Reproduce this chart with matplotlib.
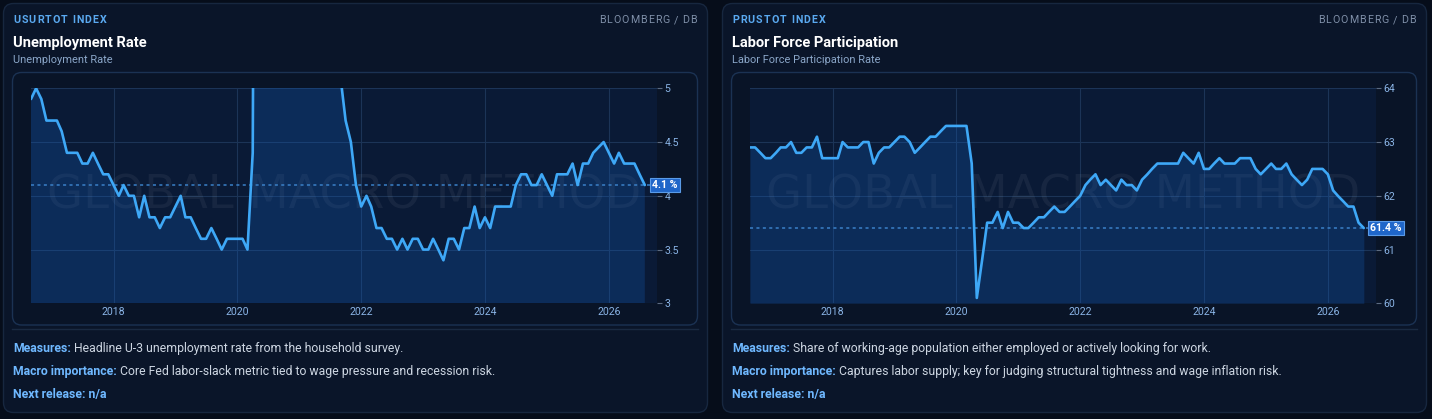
import matplotlib
matplotlib.use("Agg")
import matplotlib.pyplot as plt
from matplotlib.patches import FancyBboxPatch
from matplotlib.font_manager import FontProperties
import pandas as pd

# ---------------- data ----------------
try:
    months = pd.date_range("2016-08-31", "2026-07-31", freq="ME")
except Exception:
    months = pd.date_range("2016-08-31", "2026-07-31", freq="M")

unemployment = [
    4.9, 5.0, 4.9, 4.7, 4.7,
    4.7, 4.6, 4.4, 4.4, 4.4, 4.3, 4.3, 4.4, 4.3, 4.2, 4.2, 4.1,
    4.0, 4.1, 4.0, 4.0, 3.8, 4.0, 3.8, 3.8, 3.7, 3.8, 3.8, 3.9,
    4.0, 3.8, 3.8, 3.7, 3.6, 3.6, 3.7, 3.6, 3.5, 3.6, 3.6, 3.6,
    3.6, 3.5, 4.4, 14.8, 13.3, 11.1, 10.2, 8.4, 7.9, 6.9, 6.7, 6.7,
    6.4, 6.2, 6.1, 6.1, 5.8, 5.9, 5.4, 5.1, 4.7, 4.5, 4.1, 3.9,
    4.0, 3.9, 3.7, 3.7, 3.6, 3.6, 3.5, 3.6, 3.5, 3.6, 3.6, 3.5,
    3.5, 3.6, 3.5, 3.4, 3.6, 3.6, 3.5, 3.7, 3.7, 3.9, 3.7, 3.8,
    3.7, 3.9, 3.9, 3.9, 3.9, 4.1, 4.2, 4.2, 4.1, 4.1, 4.2, 4.1,
    4.0, 4.2, 4.2, 4.2, 4.3, 4.1, 4.3, 4.3, 4.4, None, 4.5, 4.4,
    4.3, 4.4, 4.3, 4.3, 4.3, 4.2, 4.1,
]

participation = [
    62.9, 62.9, 62.8, 62.7, 62.7,
    62.8, 62.9, 62.9, 63.0, 62.8, 62.8, 62.9, 62.9, 63.1, 62.7, 62.7, 62.7,
    62.7, 63.0, 62.9, 62.9, 62.9, 63.0, 63.0, 62.6, 62.8, 62.9, 62.9, 63.0,
    63.1, 63.1, 63.0, 62.8, 62.9, 63.0, 63.1, 63.1, 63.2, 63.3, 63.3, 63.3,
    63.3, 63.3, 62.6, 60.1, 60.8, 61.5, 61.5, 61.7, 61.4, 61.7, 61.5, 61.5,
    61.4, 61.4, 61.5, 61.6, 61.6, 61.7, 61.8, 61.7, 61.7, 61.8, 61.9, 62.0,
    62.2, 62.3, 62.4, 62.2, 62.3, 62.2, 62.1, 62.3, 62.2, 62.2, 62.1, 62.3,
    62.4, 62.5, 62.6, 62.6, 62.6, 62.6, 62.6, 62.8, 62.7, 62.6, 62.8, 62.5,
    62.5, 62.6, 62.7, 62.6, 62.6, 62.6, 62.7, 62.7, 62.7, 62.5, 62.4, 62.5,
    62.6, 62.5, 62.5, 62.6, 62.4, 62.3, 62.2, 62.3, 62.5, None, 62.5, 62.4,
    62.1, 62.0, 61.9, 61.8, 61.8, 61.5, 61.4,
]

xtick_years = [2018, 2020, 2022, 2024, 2026]
xtick_labels = ["2018", "2020", "2022", "2024", "2026"]

unemp_yticks = [3, 3.5, 4, 4.5, 5]
unemp_ytick_labels = ["3", "3.5", "4", "4.5", "5"]
lfpr_yticks = [60, 61, 62, 63, 64]
lfpr_ytick_labels = ["60", "61", "62", "63", "64"]

codes = ["USURTOT INDEX", "PRUSTOT INDEX"]
sources = ["BLOOMBERG / DB", "BLOOMBERG / DB"]
titles = ["Unemployment Rate", "Labor Force Participation"]
subtitles = ["Unemployment Rate", "Labor Force Participation Rate"]
measures = [
    "Headline U-3 unemployment rate from the household survey.",
    "Share of working-age population either employed or actively looking for work.",
]
importance = [
    "Core Fed labor-slack metric tied to wage pressure and recession risk.",
    "Captures labor supply; key for judging structural tightness and wage inflation risk.",
]
next_release = ["n/a", "n/a"]
watermark = "GLOBAL MACRO METHOD"

# ---------------- style ----------------
W, H, DPI = 1432, 419, 100
FONT = ["Roboto", "DejaVu Sans"]
plt.rcParams["font.family"] = FONT

OUTER = "#060d1a"
CARD = "#0a1529"
CARD_EDGE = "#17273f"
BOX_FACE = "#091427"
BOX_EDGE = "#1b3253"
PLOT_BG = "#0a1a36"
FILL = "#1462c4"
GRID = "#1c3457"
LINE = "#3ea8f7"
TICKC = "#8ab4e6"
CODE_C = "#5aa9f0"
SRC_C = "#7f8fa8"
SUB_C = "#8aa6c8"
LABEL_C = "#6fb8ff"
BODY_C = "#cdd6e2"
DIV_C = "#1a2a42"
LAST_LINE = "#3a80c8"
LAST_BOX = "#1f66c9"
LAST_EDGE = "#5a9be8"

fig = plt.figure(figsize=(W / DPI, H / DPI), dpi=DPI, facecolor=OUTER)
bg = fig.add_axes([0, 0, 1, 1])
bg.set_xlim(0, W)
bg.set_ylim(H, 0)
bg.axis("off")
bg.set_zorder(0)
renderer = fig.canvas.get_renderer()


def text_w(s, fp):
    a = renderer.get_text_width_height_descent("x" + s + "x", fp, ismath=False)[0]
    b = renderer.get_text_width_height_descent("xx", fp, ismath=False)[0]
    return a - b


def spaced(x, y, s, fp, color, spacing, ha="left"):
    widths = [text_w(c, fp) for c in s]
    gaps = [spacing * 0.6 if c == " " else spacing for c in s]
    total = sum(widths) + sum(gaps[:-1])
    cx = x if ha == "left" else x - total
    for c, w, g in zip(s, widths, gaps):
        if c != " ":
            bg.text(cx, y, c, fontproperties=fp, color=color, va="center", ha="left")
        cx += w + g


series_list = [unemployment, participation]
ylims = [(3, 5), (60, 64)]
yticks_list = [unemp_yticks, lfpr_yticks]
yticklabels_list = [unemp_ytick_labels, lfpr_ytick_labels]

xmin = pd.Timestamp("2016-08-31")
xmax = pd.Timestamp("2026-10-08")

for i in range(2):
    off = i * 719
    # card
    bg.add_patch(FancyBboxPatch((3.5 + off, 3.5), 704, 409,
                                boxstyle="round,pad=0,rounding_size=10",
                                fc=CARD, ec=CARD_EDGE, lw=1))
    # chart box
    bg.add_patch(FancyBboxPatch((12.5 + off, 72.5), 685, 252.5,
                                boxstyle="round,pad=0,rounding_size=9",
                                fc=BOX_FACE, ec=BOX_EDGE, lw=1))
    # divider
    bg.plot([12 + off, 698 + off], [328.5, 328.5], color=DIV_C, lw=1)

    # header
    fp_code = FontProperties(family=FONT, weight="bold", size=7.7)
    spaced(13 + off, 20, codes[i], fp_code, CODE_C, 1.1)
    fp_src = FontProperties(family=FONT, size=7.7)
    spaced(697 + off, 20, sources[i], fp_src, SRC_C, 1.0, ha="right")
    bg.text(13 + off, 42.5, titles[i], fontsize=10.5, fontweight="bold",
            color="white", va="center", ha="left")
    bg.text(13 + off, 60, subtitles[i], fontsize=7.9, color=SUB_C,
            va="center", ha="left")

    # footer
    rows = [("Measures:", measures[i]), ("Macro importance:", importance[i]),
            ("Next release:", None)]
    for j, (lab, body) in enumerate(rows):
        y = 348 + j * 23
        if body is None:
            bg.text(13 + off, y, lab + " " + next_release[i], fontsize=8.8,
                    fontweight="bold", color=LABEL_C, va="center", ha="left")
            continue
        t = bg.text(13 + off, y, lab, fontsize=8.8, fontweight="bold",
                    color=LABEL_C, va="center", ha="left")
        wl = t.get_window_extent(renderer).width
        bg.text(13 + off + wl + 3.5, y, body, fontsize=8.8, color=BODY_C,
                va="center", ha="left")

    # plot axes
    left_px = 31 + off
    ax = fig.add_axes([left_px / W, 1 - 303.3 / H, 625.5 / W, 215 / H])
    ax.set_zorder(2)
    ax.set_facecolor(PLOT_BG)
    s = pd.Series(series_list[i], index=months, dtype=float).dropna()
    lo, hi = ylims[i]
    ax.fill_between(s.index, s.values, lo, color=FILL, alpha=0.25, lw=0, zorder=2)
    ax.plot(s.index, s.values, color=LINE, lw=1.9, zorder=4,
            solid_joinstyle="round", solid_capstyle="round")
    last = s.values[-1]
    ax.axhline(last, color=LAST_LINE, lw=1.1, ls=(0, (2, 2.2)), zorder=3)
    ax.text(0.9936 if i == 0 else 0.992, last, f"{last:.1f} %",
            transform=ax.get_yaxis_transform(), fontsize=7.6, fontweight="bold",
            color="white", ha="left", va="center", zorder=6, clip_on=False,
            bbox=dict(boxstyle="square,pad=0.22", fc=LAST_BOX, ec=LAST_EDGE, lw=0.8))
    ax.text(0.5, 0.5, watermark, transform=ax.transAxes, fontsize=33.5,
            family="DejaVu Sans", color="white", alpha=0.055, ha="center",
            va="center", zorder=1)

    ax.set_xlim(xmin, xmax)
    ax.set_ylim(lo, hi)
    ax.set_xticks([pd.Timestamp(f"{y}-01-01") for y in xtick_years])
    ax.set_xticklabels(xtick_labels)
    ax.set_yticks(yticks_list[i])
    ax.set_yticklabels(yticklabels_list[i])
    ax.yaxis.tick_right()
    ax.tick_params(axis="x", length=0, pad=3, labelsize=7.6, labelcolor=TICKC)
    ax.tick_params(axis="y", length=3.5, width=0.8, color="#5c6b82", pad=2.2,
                   labelsize=7.6, labelcolor=TICKC)
    ax.grid(True, color=GRID, lw=0.8, zorder=0)
    ax.set_axisbelow(True)
    for sp in ax.spines.values():
        sp.set_visible(False)

fig.savefig("out.png", dpi=DPI, facecolor=OUTER)
